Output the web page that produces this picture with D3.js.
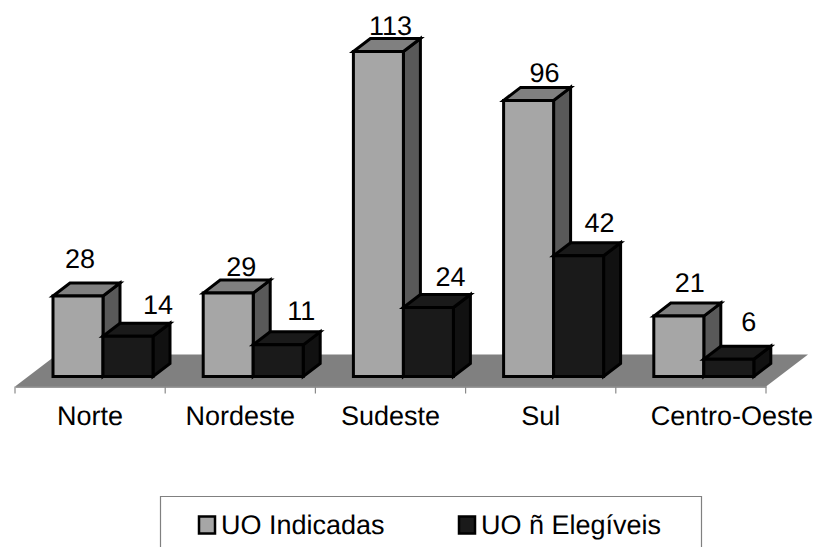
<!DOCTYPE html>
<html>
<head>
<meta charset="utf-8">
<script src="https://cdn.jsdelivr.net/npm/d3@7/dist/d3.min.js"></script>
<style>
  html, body { margin: 0; padding: 0; background: #fff; overflow: hidden; }
  text { font-family: "Liberation Sans", Arial, sans-serif; fill: #000; text-rendering: geometricPrecision; }
</style>
</head>
<body>
<script>
// Regional counts of budget units, drawn as a pseudo-3D clustered column chart.
const regions = ["Norte", "Nordeste", "Sudeste", "Sul", "Centro-Oeste"];
const seriesNames = ["UO Indicadas", "UO ñ Elegíveis"];
const indicadas = [28, 29, 113, 96, 21];
const naoElegiveis = [14, 11, 24, 42, 6];

// Hand-placed value labels, as [dx, dy] from each column's front-top centre.
const indicadasLabelShift = [[2, -28], [13, -17], [12, -17], [16, -18], [11, -24]];
const elegiveisLabelShift = [[30, -22], [23, -25], [22, -21], [21, -24], [20, -28]];
// The last region label is pushed right of its band.
const regionLabelShift = [0, 0, 0, 0, 41];

const width = 818, height = 547;
const baseY = 376.5, depthX = 17, depthY = 13;
const floorFrontY = 386.5, floorBackY = 354.5;
const fontSize = 27;

const svg = d3.select("body").append("svg")
  .attr("width", width).attr("height", height)
  .style("display", "block");

const x0 = d3.scaleBand().domain(regions).range([15, 766]);
const x1 = d3.scaleBand().domain(seriesNames).range([38, 138]);
const y = d3.scaleLinear().domain([0, 113]).range([baseY, 51.5]);

const palette = {
  [seriesNames[0]]: { front: "#a6a6a6", top: "#808080", side: "#595959" },
  [seriesNames[1]]: { front: "#1a1a1a", top: "#1a1a1a", side: "#111111" }
};

// Floor plane
svg.append("path")
  .attr("d", d3.line()([
    [x0.range()[0], floorFrontY], [x0.range()[1], floorFrontY],
    [808, floorBackY], [57, floorBackY]
  ]) + "Z")
  .attr("fill", "#808080");

// Category axis with ticks on the floor's front edge
const axis = d3.axisBottom(x0).tickSize(0).tickPadding(0).tickFormat("");
svg.append("g").attr("transform", `translate(0,${floorFrontY})`).call(axis)
  .select(".domain").attr("stroke", "#7a7a7a").attr("stroke-width", 1.5);
const tickXs = regions.map(r => x0(r)).concat(x0.range()[1]);
svg.selectAll("line.tick-mark").data(tickXs).join("line")
  .attr("class", "tick-mark")
  .attr("x1", d => d).attr("x2", d => d)
  .attr("y1", floorFrontY).attr("y2", floorFrontY + 7)
  .attr("stroke", "#8a8a8a").attr("stroke-width", 1.2);

svg.selectAll("text.region").data(regions).join("text")
  .attr("class", "region")
  .attr("x", (d, i) => x0(d) + x0.bandwidth() / 2 + regionLabelShift[i])
  .attr("y", 425)
  .attr("text-anchor", "middle")
  .attr("font-size", fontSize)
  .text(d => d);

// Columns: front, top and side faces
function column(g, left, w, top, colors) {
  const right = left + w;
  const face = (pts, fill) => g.append("path")
    .attr("d", d3.line()(pts) + "Z")
    .attr("fill", fill)
    .attr("stroke", "#000")
    .attr("stroke-width", 3)
    .attr("stroke-linejoin", "miter");
  face([[right, top], [right + depthX, top - depthY], [right + depthX, baseY - depthY], [right, baseY]], colors.side);
  face([[left, top], [left + depthX, top - depthY], [right + depthX, top - depthY], [right, top]], colors.top);
  face([[left, top], [right, top], [right, baseY], [left, baseY]], colors.front);
}

const seriesValues = [indicadas, naoElegiveis];
const seriesShifts = [indicadasLabelShift, elegiveisLabelShift];
const groups = svg.selectAll("g.region-group").data(regions).join("g").attr("class", "region-group");
groups.each(function (region, i) {
  const g = d3.select(this);
  seriesNames.forEach((name, s) => {
    column(g, x0(region) + x1(name), x1.bandwidth(), y(seriesValues[s][i]), palette[name]);
  });
});

// Value labels go last so they sit above every column
regions.forEach((region, i) => {
  seriesNames.forEach((name, s) => {
    const cx = x0(region) + x1(name) + x1.bandwidth() / 2;
    const [dx, dy] = seriesShifts[s][i];
    svg.append("text")
      .attr("x", cx + dx)
      .attr("y", y(seriesValues[s][i]) + dy)
      .attr("text-anchor", "middle")
      .attr("font-size", fontSize)
      .text(seriesValues[s][i]);
  });
});

// Legend box, open at the bottom where the page ends
const legend = svg.append("g");
legend.append("path")
  .attr("d", "M160.5,547V496.5H701.5V547")
  .attr("fill", "none").attr("stroke", "#808080").attr("stroke-width", 1.2);
const legendX = [199, 459];
seriesNames.forEach((name, s) => {
  legend.append("rect")
    .attr("x", legendX[s]).attr("y", 516.5)
    .attr("width", 16).attr("height", 17)
    .attr("fill", palette[name].front)
    .attr("stroke", "#000").attr("stroke-width", 2.5);
  legend.append("text")
    .attr("x", legendX[s] + 22).attr("y", 534)
    .attr("font-size", fontSize)
    .text(name);
});
</script>
</body>
</html>
